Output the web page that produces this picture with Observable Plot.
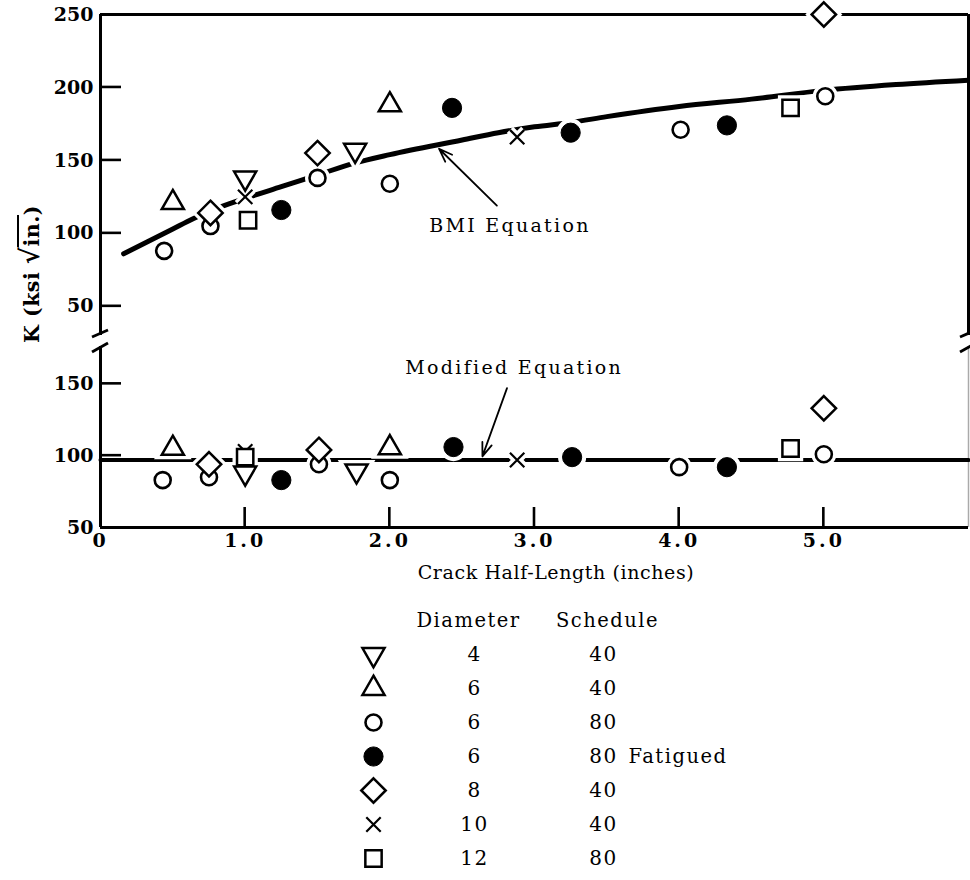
<!DOCTYPE html>
<html>
<head>
<meta charset="utf-8">
<script src="https://cdn.jsdelivr.net/npm/d3@7"></script>
<script src="https://cdn.jsdelivr.net/npm/@observablehq/plot@0.6"></script>
<style>
  html, body { margin: 0; padding: 0; background: #fff; }
  #chart { position: relative; width: 970px; height: 880px; overflow: hidden; font-family: "DejaVu Serif", serif; color: #000; background: #fff; }
  #chart > svg { position: absolute; left: 0; }
  #ylab { position: absolute; left: 31px; top: 274px; transform: translate(-50%, -50%) rotate(-90deg); white-space: nowrap; font-weight: bold; font-size: 20.5px; line-height: 26px; letter-spacing: 0.5px; }
  #ylab .rad { font-size: 26px; font-weight: bold; }
  #ylab .ov { border-top: 2.5px solid #000; padding-top: 1px; }
  #xlab { position: absolute; left: 356px; width: 400px; top: 560px; text-align: center; font-size: 19px; line-height: 24px; letter-spacing: 0.6px; }
</style>
</head>
<body>
<div id="chart">
  <div id="ylab">K (ksi <span class="rad">√</span><span class="ov">in.</span>)</div>
  <div id="xlab">Crack Half-Length (inches)</div>
</div>
<script>
// ---------------- scales / ticks ----------------
const xDomain = [0, 6];
const xTicks = [0, 1, 2, 3, 4, 5];
const xTickMarks = [1, 2, 3, 4, 5];
const bmiDomain = [30, 250];
const bmiTicks = [50, 100, 150, 200, 250];
const bmiTickMarks = [50, 100, 150, 200];
const modDomain = [50, 176];
const modTicks = [50, 100, 150];
const modTickMarks = [100, 150];

// ---------------- equation curves ----------------
const bmiCurveX = [0.16, 0.5, 0.64, 0.75, 1.0, 1.25, 1.5, 1.75, 2.0, 2.5, 2.75, 3.0, 3.25, 3.5, 4.0, 4.5, 5.0, 5.5, 6.0];
const bmiCurveK = [86, 103, 110, 115, 124, 132, 140, 148, 154, 164, 169, 173, 176, 180, 187, 192, 198, 202, 205];
const modCurveX = [0, 6];
const modCurveK = [97, 97];

// ---------------- legend (series) ----------------
const seriesKeys = ["4-40", "6-40", "6-80", "6-80F", "8-40", "10-40", "12-80"];
const diameters = [4, 6, 6, 6, 8, 10, 12];
const schedules = [40, 40, 80, 80, 40, 40, 80];
const notes = ["", "", "", "Fatigued", "", "", ""];

// ---------------- BMI equation panel (top) ----------------
const bmi_4_40_x = [1.0, 1.76];                       const bmi_4_40_k = [138, 157];
const bmi_6_40_x = [0.5, 2.0];                        const bmi_6_40_k = [121, 188];
const bmi_6_80_x = [0.44, 0.76, 1.5, 2.0, 4.01, 5.01]; const bmi_6_80_k = [88, 105, 138, 134, 171, 194];
const bmi_6_80f_x = [1.25, 2.43, 3.25, 4.33];         const bmi_6_80f_k = [116, 186, 169, 174];
const bmi_8_40_x = [0.76, 1.5, 5.0];                  const bmi_8_40_k = [114, 155, 250];
const bmi_10_40_x = [1.0, 2.88];                      const bmi_10_40_k = [125, 166];
const bmi_12_80_x = [1.02, 4.77];                     const bmi_12_80_k = [109, 186];

// ---------------- Modified equation panel (bottom) ----------------
const mod_4_40_x = [1.0, 1.77];                       const mod_4_40_k = [88, 89.5];
const mod_6_40_x = [0.5, 2.0];                        const mod_6_40_k = [105, 105.5];
const mod_6_80_x = [0.43, 0.75, 1.51, 2.0, 4.0, 5.0];  const mod_6_80_k = [83, 85, 94, 83, 92, 101];
const mod_6_80f_x = [1.25, 2.44, 3.26, 4.33];         const mod_6_80f_k = [83, 106, 99, 92];
const mod_8_40_x = [0.75, 1.51, 5.0];                 const mod_8_40_k = [94, 104, 133];
const mod_10_40_x = [1.0, 2.88];                      const mod_10_40_k = [103, 97];
const mod_12_80_x = [1.0, 4.77];                      const mod_12_80_k = [99, 105];

// ---------------- annotations ----------------
const bmiNoteText = ["BMI Equation"];      const bmiNoteX = [2.83]; const bmiNoteK = [105];
const bmiArrowX1 = [2.74]; const bmiArrowK1 = [119]; const bmiArrowX2 = [2.34]; const bmiArrowK2 = [158];
const modNoteText = ["Modified Equation"]; const modNoteX = [2.86]; const modNoteK = [161];
const modArrowX1 = [2.81]; const modArrowK1 = [147]; const modArrowX2 = [2.64]; const modArrowK2 = [99.5];

// ---------------- build tables ----------------
const zipXY = (xs, ks) => xs.map((x, i) => ({x, k: ks[i]}));
const bmiSeries = [
  zipXY(bmi_4_40_x, bmi_4_40_k), zipXY(bmi_6_40_x, bmi_6_40_k), zipXY(bmi_6_80_x, bmi_6_80_k),
  zipXY(bmi_6_80f_x, bmi_6_80f_k), zipXY(bmi_8_40_x, bmi_8_40_k), zipXY(bmi_10_40_x, bmi_10_40_k),
  zipXY(bmi_12_80_x, bmi_12_80_k)
];
const modSeries = [
  zipXY(mod_4_40_x, mod_4_40_k), zipXY(mod_6_40_x, mod_6_40_k), zipXY(mod_6_80_x, mod_6_80_k),
  zipXY(mod_6_80f_x, mod_6_80f_k), zipXY(mod_8_40_x, mod_8_40_k), zipXY(mod_10_40_x, mod_10_40_k),
  zipXY(mod_12_80_x, mod_12_80_k)
];
const bmiCurve = zipXY(bmiCurveX, bmiCurveK);
const modCurve = zipXY(modCurveX, modCurveK);

// marker styles (one per series)
const markerStyles = [
  {symbol: "triangle", rotate: 180, r: 8.2, fill: "white", sw: 2.5},
  {symbol: "triangle", rotate: 0, r: 8.2, fill: "white", sw: 2.5},
  {symbol: "circle", rotate: 0, r: 8, fill: "white", sw: 2.6},
  {symbol: "circle", rotate: 0, r: 9.6, fill: "black", sw: 1},
  {symbol: "diamond2", rotate: 0, r: 11, fill: "white", sw: 2.5},
  {symbol: "times", rotate: 0, r: 6.6, fill: "none", sw: 2.2},
  {symbol: "square", rotate: 0, r: 9.2, fill: "white", sw: 2.5}
];

function pointMarks(series) {
  const halos = series.map((t, i) => {
    const s = markerStyles[i];
    return Plot.dot(t, {x: "x", y: "k", symbol: s.symbol, r: s.r, rotate: s.rotate, fill: "white", stroke: "white", strokeWidth: 9});
  });
  const dots = series.map((t, i) => {
    const s = markerStyles[i];
    return Plot.dot(t, {x: "x", y: "k", symbol: s.symbol, r: s.r, rotate: s.rotate, fill: s.fill, stroke: "black", strokeWidth: s.sw});
  });
  return [...halos, ...dots];
}

function yTickMarks(values) {
  return (index, scales) => {
    const g = d3.create("svg:g").attr("stroke", "black").attr("stroke-width", 2.6).attr("fill", "none");
    const x0 = scales.x(xDomain[0]);
    values.forEach(v => {
      const y = scales.y(v);
      g.append("line").attr("x1", x0).attr("x2", x0 + 21).attr("y1", y).attr("y2", y);
    });
    return g.node();
  };
}
function xTickMarksFn(values, yv) {
  return (index, scales) => {
    const g = d3.create("svg:g").attr("stroke", "black").attr("stroke-width", 2.6).attr("fill", "none");
    const y0 = scales.y(yv);
    values.forEach(v => {
      const x = scales.x(v);
      g.append("line").attr("x1", x).attr("x2", x).attr("y1", y0).attr("y2", y0 - 20);
    });
    return g.node();
  };
}
function breakMarks(yv, shift, half) {
  return (index, scales) => {
    const g = d3.create("svg:g").attr("stroke", "black").attr("stroke-width", 2.8).attr("fill", "none");
    const cy = scales.y(yv) + shift;
    [scales.x(xDomain[0]), scales.x(xDomain[1])].forEach(x => {
      g.append("line").attr("x1", x - 8).attr("y1", cy + half).attr("x2", x + 8).attr("y2", cy - half);
    });
    return g.node();
  };
}

const baseStyle = {
  background: "transparent", overflow: "visible",
  fontFamily: '"DejaVu Serif", serif', fontSize: "19px", fontWeight: "bold", color: "black"
};

// ---------------- top panel ----------------
const topPlot = Plot.plot({
  width: 970, height: 336,
  marginLeft: 100, marginRight: 2, marginTop: 14, marginBottom: 1,
  x: {domain: xDomain, axis: null},
  y: {domain: bmiDomain, ticks: bmiTicks, tickSize: 0, tickPadding: 7, label: null},
  style: baseStyle,
  marks: [
    Plot.ruleX(xDomain, {stroke: "black", strokeWidth: 3}),
    Plot.ruleY([bmiDomain[1]], {stroke: "black", strokeWidth: 3}),
    Plot.line(bmiCurve, {x: "x", y: "k", curve: "monotone-x", stroke: "black", strokeWidth: 5}),
    Plot.arrow(bmiArrowX1.map((x, i) => ({x1: x, y1: bmiArrowK1[i], x2: bmiArrowX2[i], y2: bmiArrowK2[i]})),
      {x1: "x1", y1: "y1", x2: "x2", y2: "y2", stroke: "black", strokeWidth: 1.8, headLength: 12, headAngle: 40}),
    Plot.text(bmiNoteText.map((t, i) => ({t, x: bmiNoteX[i], k: bmiNoteK[i]})),
      {x: "x", y: "k", text: "t", fontWeight: "normal", fontSize: 19}),
    ...pointMarks(bmiSeries),
    yTickMarks(bmiTickMarks),
    breakMarks(bmiDomain[0], -1.5, 3.5)
  ]
});
topPlot.style.top = "0px";

// ---------------- bottom panel ----------------
const botPlot = Plot.plot({
  width: 970, height: 264,
  marginLeft: 100, marginRight: 2, marginTop: 10, marginBottom: 73,
  x: {domain: xDomain, ticks: xTicks, tickSize: 0, tickPadding: 6, label: null,
      tickFormat: d => d === 0 ? "0" : d.toFixed(1)},
  y: {domain: modDomain, ticks: modTicks, tickSize: 0, tickPadding: 7, label: null},
  style: baseStyle,
  marks: [
    Plot.ruleX([xDomain[0]], {stroke: "black", strokeWidth: 3}),
    Plot.ruleX([xDomain[1]], {stroke: "#aaa", strokeWidth: 1.5}),
    Plot.ruleY([modDomain[0]], {stroke: "black", strokeWidth: 3}),
    Plot.line(modCurve, {x: "x", y: "k", stroke: "black", strokeWidth: 4}),
    Plot.arrow(modArrowX1.map((x, i) => ({x1: x, y1: modArrowK1[i], x2: modArrowX2[i], y2: modArrowK2[i]})),
      {x1: "x1", y1: "y1", x2: "x2", y2: "y2", stroke: "black", strokeWidth: 1.8, headLength: 12, headAngle: 40}),
    Plot.text(modNoteText.map((t, i) => ({t, x: modNoteX[i], k: modNoteK[i]})),
      {x: "x", y: "k", text: "t", fontWeight: "normal", fontSize: 19}),
    ...pointMarks(modSeries),
    yTickMarks(modTickMarks),
    xTickMarksFn(xTickMarks, modDomain[0]),
    breakMarks(modDomain[1], 1.5, 4.5)
  ]
});
botPlot.style.top = "336px";

// ---------------- legend ----------------
const legendRows = seriesKeys.map((key, i) => ({key, diameter: diameters[i], schedule: schedules[i], note: notes[i]}));
const legendPlot = Plot.plot({
  width: 970, height: 280,
  marginLeft: 0, marginRight: 0, marginTop: 0, marginBottom: 0,
  x: {domain: [0, 970], range: [0, 970], axis: null},
  y: {type: "point", domain: ["header", ...seriesKeys], range: [18, 259], padding: 0, axis: null},
  style: baseStyle,
  marks: [
    Plot.text(["Diameter"], {x: 468, y: () => "header", text: d => d, fontWeight: "normal", fontSize: 19.5}),
    Plot.text(["Schedule"], {x: 607, y: () => "header", text: d => d, fontWeight: "normal", fontSize: 19.5}),
    ...legendRows.map((row, i) => {
      const s = markerStyles[i];
      return Plot.dot([row], {x: 373, y: "key", symbol: s.symbol, r: s.r, rotate: s.rotate, fill: s.fill, stroke: "black", strokeWidth: s.sw});
    }),
    Plot.text(legendRows, {x: 474, y: "key", text: "diameter", fontWeight: "normal", fontSize: 20}),
    Plot.text(legendRows, {x: 603, y: "key", text: "schedule", fontWeight: "normal", fontSize: 20}),
    Plot.text(legendRows, {x: 628, y: "key", text: "note", textAnchor: "start", fontWeight: "normal", fontSize: 19.5})
  ]
});
legendPlot.style.top = "600px";

const chart = document.getElementById("chart");
chart.appendChild(topPlot);
chart.appendChild(botPlot);
chart.appendChild(legendPlot);

// typographic spacing similar to the original typewriter-like setting
[topPlot, botPlot].forEach(svg => {
  svg.querySelectorAll('g[aria-label="text"] text').forEach(t => t.style.letterSpacing = "2.3px");
});
botPlot.querySelectorAll('[aria-label^="x-axis"] text').forEach(t => t.style.letterSpacing = "3px");
legendPlot.querySelectorAll('g[aria-label="text"] text').forEach(t => t.style.letterSpacing = "1.5px");
</script>
</body>
</html>
